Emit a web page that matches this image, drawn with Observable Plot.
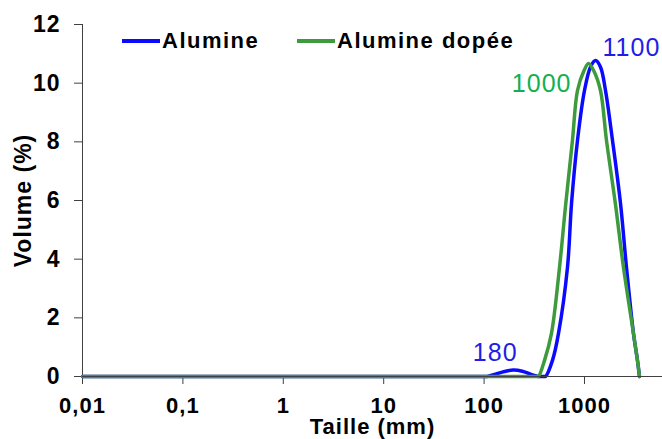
<!DOCTYPE html>
<html><head><meta charset="utf-8">
<script src="https://cdn.jsdelivr.net/npm/d3@7"></script>
<script src="https://cdn.jsdelivr.net/npm/@observablehq/plot@0.6"></script>
<style>
body{margin:0;background:#fff;}
#wrap{position:relative;width:662px;height:439px;font-family:"Liberation Sans",Arial,sans-serif;}
#wrap svg{position:absolute;left:0;top:0;}
.leg{position:absolute;top:28px;height:26px;display:flex;align-items:center;font-weight:bold;font-size:22px;letter-spacing:1.5px;color:#000;}
.sw{display:inline-block;width:38px;height:4px;margin-right:2px;}
</style></head><body><div id="wrap"></div>
<script>
// Data
const blueX = [0.01, 0.1, 1, 10, 100, 107, 130, 160, 195, 240, 290, 340, 370, 398, 409, 480, 551, 677, 743, 852, 1000, 1148, 1288, 1443, 1619, 1901, 2284, 2620, 3075, 3370, 3530];
const blueY = [0, 0, 0, 0, 0, 0, 0.08, 0.17, 0.22, 0.18, 0.08, 0.01, 0, 0, 0, 0.55, 1.47, 3.72, 5.9, 8.05, 9.75, 10.55, 10.77, 10.55, 9.75, 8.05, 5.9, 3.72, 1.47, 0.55, 0];
const greenX = [0.01, 0.1, 1, 10, 100, 300, 338, 348, 400, 469, 564, 647, 759, 852, 990, 1096, 1233, 1443, 1656, 2030, 2445, 3075, 3370, 3530];
const greenY = [0, 0, 0, 0, 0, 0, 0, 0, 0.55, 1.47, 3.72, 5.8, 8.05, 9.75, 10.43, 10.67, 10.43, 9.75, 8.05, 5.9, 3.72, 1.47, 0.55, 0];
const seriesNames = ["Alumine", "Alumine dopée"];
const xTicks = [0.01, 0.1, 1, 10, 100, 1000];
const xTickLabels = ["0,01", "0,1", "1", "10", "100", "1000"];
const yTicks = [0, 2, 4, 6, 8, 10, 12];
const annX = [195, 1096, 1288];
const annY = [0.22, 10.67, 10.77];
const annText = ["180", "1000", "1100"];

const blueCol = "#0a0aff", greenCol = "#3d9a3d";
const blue = blueX.map((x, i) => ({x, y: blueY[i]}));
const green = greenX.map((x, i) => ({x, y: greenY[i]}));
const ann = annX.map((x, i) => ({x, y: annY[i], t: annText[i]}));

const tickFont = {fontSize: 23, fontWeight: "bold", fill: "#000"};
const chart = Plot.plot({
  width: 662, height: 439,
  marginLeft: 82, marginRight: 0, marginTop: 24, marginBottom: 63,
  style: {fontFamily: "'Liberation Sans', Arial, sans-serif", letterSpacing: "1px", background: "#fff"},
  x: {type: "log", domain: [0.01, 5985]},
  y: {domain: [0, 12]},
  marks: [
    Plot.axisX({ticks: xTicks, tickFormat: d => xTickLabels[xTicks.indexOf(d)], tickSize: 8, tickPadding: 13, stroke: "#404040",
      label: "Taille (mm)", labelAnchor: "center", labelArrow: "none", labelOffset: 57, fontSize: 22, fontWeight: "bold", fill: "#000"}),
    Plot.axisY({ticks: yTicks, tickSize: 8, tickPadding: 14, stroke: "#404040",
      label: "Volume (%)", labelAnchor: "center", labelArrow: "none", labelOffset: 68, ...tickFont}),
    Plot.ruleX([0.01], {stroke: "#404040"}),
    Plot.line(blue, {x: "x", y: "y", stroke: blueCol, strokeWidth: 3.5, curve: "catmull-rom"}),
    Plot.line(green, {x: "x", y: "y", stroke: greenCol, strokeWidth: 3.5, curve: "catmull-rom"}),
    Plot.ruleY([0], {stroke: "#404040", strokeWidth: 1}),
    Plot.text(ann.slice(0, 1), {x: "x", y: "y", text: "t", fill: "#1e1ee6", fontSize: 25, dx: -18, dy: -17, textAnchor: "middle"}),
    Plot.text(ann.slice(1, 2), {x: "x", y: "y", text: "t", fill: "#12b050", fontSize: 25, dx: -17, dy: 20, textAnchor: "end"}),
    Plot.text(ann.slice(2, 3), {x: "x", y: "y", text: "t", fill: "#1e1ee6", fontSize: 25, dx: 7, dy: -13, textAnchor: "start"})
  ]
});
const wrap = document.getElementById("wrap");
wrap.appendChild(chart);
const legItems = [[seriesNames[0], blueCol, 122], [seriesNames[1], greenCol, 297]];
for (const [name, col, left] of legItems) {
  const d = document.createElement("div");
  d.className = "leg";
  d.style.left = left + "px";
  d.innerHTML = `<span class="sw" style="background:${col}"></span><span>${name}</span>`;
  wrap.appendChild(d);
}
</script></body></html>
